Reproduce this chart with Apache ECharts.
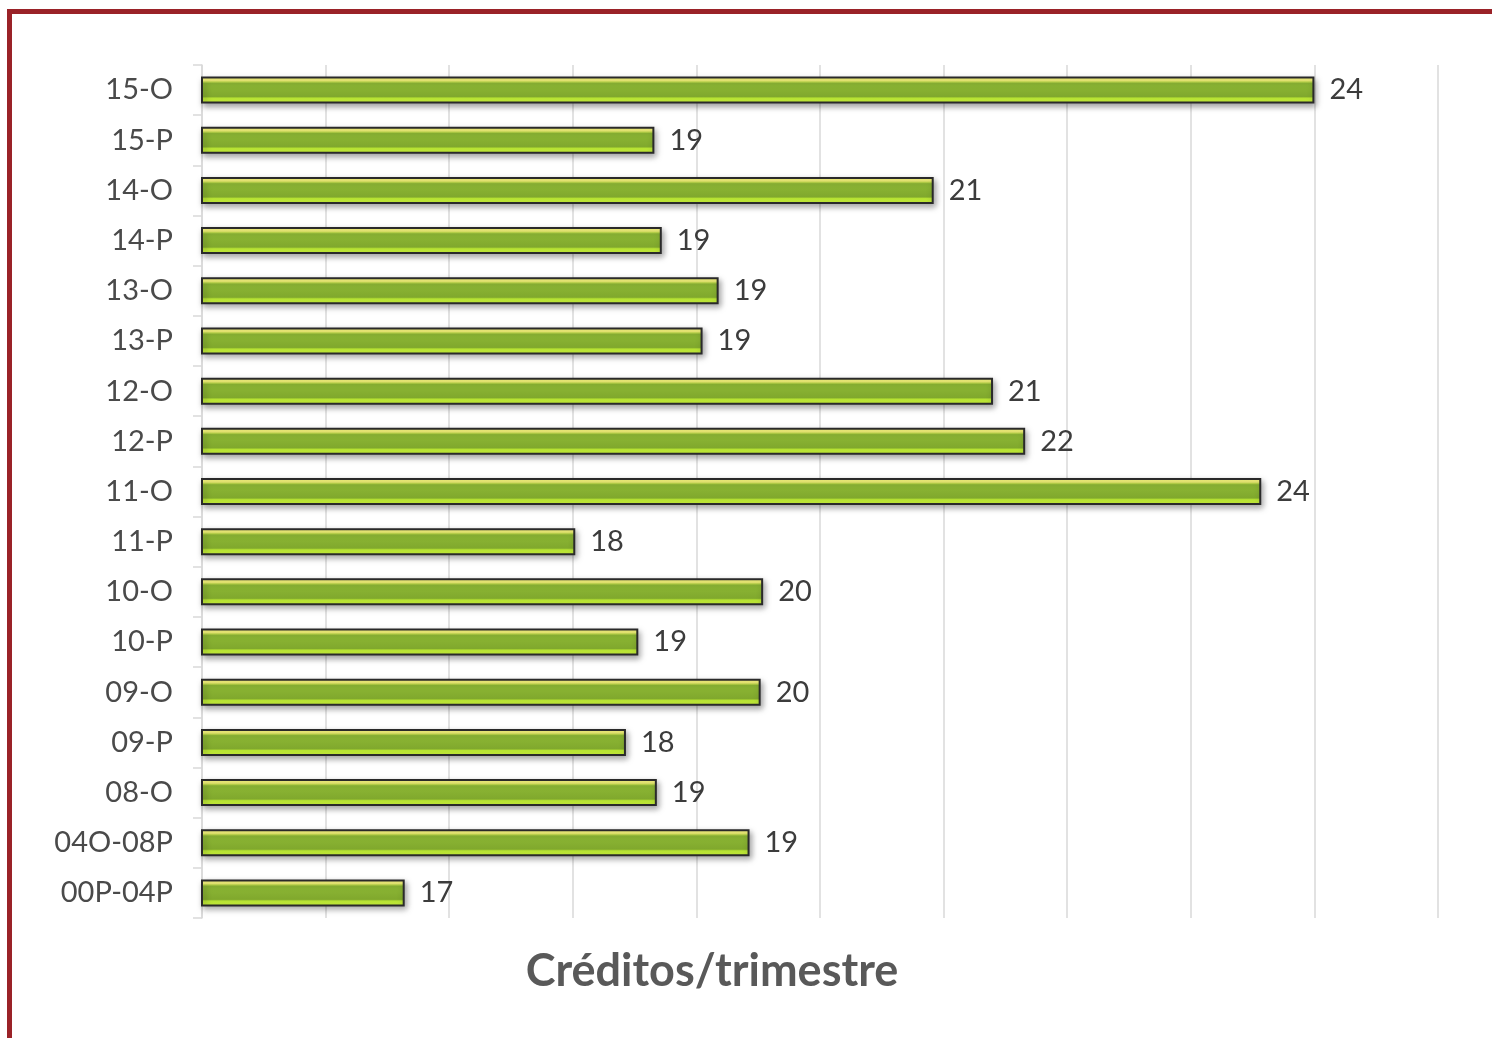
<!DOCTYPE html>
<html>
<head>
    <meta charset="utf-8">
    <title>Créditos/trimestre</title>
    <script src="https://cdn.jsdelivr.net/npm/echarts@6/dist/echarts.min.js"></script>
    <style>
        html, body { margin: 0; padding: 0; background: #fff; }
        #frame {
            position: absolute; left: 7px; top: 9px; width: 1485px; height: 1029px;
            border-top: 5px solid #9a2228; border-left: 5px solid #9a2228;
            box-sizing: border-box; pointer-events: none;
        }
        #main { position: absolute; left: 0; top: 0; width: 1492px; height: 1038px; }
    </style>
</head>
<body>
<div id="main"></div>
<div id="frame"></div>
<script type="text/javascript">
// periodos, de arriba hacia abajo
var periodos = ['15-O', '15-P', '14-O', '14-P', '13-O', '13-P', '12-O', '12-P', '11-O',
    '11-P', '10-O', '10-P', '09-O', '09-P', '08-O', '04O-08P', '00P-04P'];
var creditos = [24.0, 18.66, 20.92, 18.72, 19.18, 19.05, 21.40, 21.66, 23.57,
    18.02, 19.54, 18.53, 19.52, 18.43, 18.68, 19.43, 16.64];
var ejeMin = 15;
var ejeMax = 25;

var myChart = echarts.init(document.getElementById('main'));
var fuente = 'Lato, "Open Sans", sans-serif';

var option = {
    animation: false,
    backgroundColor: 'transparent',
    grid: { left: 202, right: 54, top: 65, bottom: 120 },
    xAxis: {
        type: 'value',
        min: ejeMin,
        max: ejeMax,
        interval: 1,
        axisLine: { show: false },
        axisTick: { show: false },
        axisLabel: { show: false },
        splitLine: { show: true, lineStyle: { color: '#d9d9d9', width: 1.5 } }
    },
    yAxis: {
        type: 'category',
        inverse: true,
        data: periodos,
        axisLine: { show: true, lineStyle: { color: '#d9d9d9', width: 1.5 } },
        axisTick: { show: true, length: 9, lineStyle: { color: '#d9d9d9', width: 1.5 } },
        axisLabel: { margin: 29, fontSize: 29, color: '#4a4a4a', fontFamily: fuente, lineHeight: 32, padding: [4, 0, 0, 0] }
    },
    graphic: [{
        type: 'text',
        x: 712,
        y: 971,
        style: {
            text: 'Créditos/trimestre',
            font: 'bold 45px ' + fuente,
            fill: '#595959',
            align: 'center',
            verticalAlign: 'middle'
        }
    }],
    series: [{
        type: 'bar',
        data: creditos,
        barWidth: 27,
        clip: true,
        itemStyle: {
            color: new echarts.graphic.LinearGradient(0, 0, 0, 1, [
                { offset: 0, color: '#fbf983' },
                { offset: 0.15, color: '#f6f57a' },
                { offset: 0.2, color: '#c3de4e' },
                { offset: 0.25, color: '#8db735' },
                { offset: 0.74, color: '#80a82d' },
                { offset: 0.8, color: '#b8e434' },
                { offset: 1, color: '#cbf33c' }
            ]),
            borderColor: '#2a2a2a',
            borderWidth: 2,
            shadowColor: 'rgba(0,0,0,0.35)',
            shadowBlur: 6,
            shadowOffsetX: 2,
            shadowOffsetY: 3
        },
        label: {
            show: true,
            position: 'right',
            distance: 15,
            fontSize: 29,
            color: '#3c3c3c',
            fontFamily: fuente,
            lineHeight: 32,
            padding: [4, 0, 0, 0],
            formatter: function (p) { return Math.round(p.value); }
        }
    }]
};

myChart.setOption(option);
</script>
</body>
</html>
